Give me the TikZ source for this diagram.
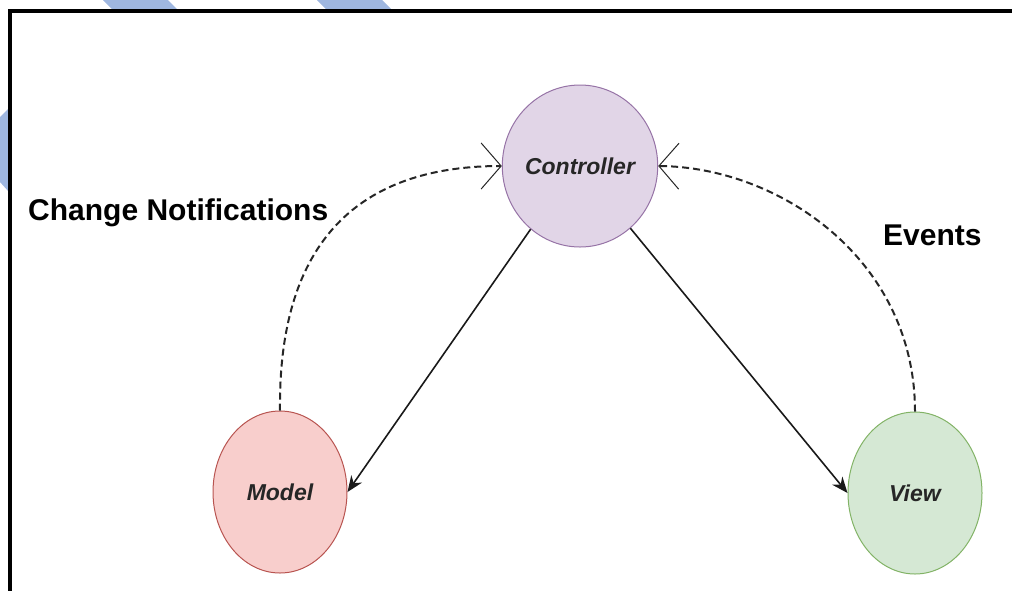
\documentclass[tikz,border=0pt]{standalone}
\usepackage{fontspec}
\setmainfont{Liberation Sans}
\usetikzlibrary{arrows.meta, shapes.geometric}
\definecolor{stripeblue}{RGB}{159,183,224}
\definecolor{ctrlfill}{HTML}{E1D5E7}
\definecolor{ctrldraw}{HTML}{9673A6}
\definecolor{modelfill}{HTML}{F8CECC}
\definecolor{modeldraw}{HTML}{B85450}
\definecolor{viewfill}{HTML}{D5E8D4}
\definecolor{viewdraw}{HTML}{82B366}

\begin{document}
\begin{tikzpicture}[x=1pt, y=-1pt,
	mvc/.style={ellipse, minimum width=134pt, minimum height=162pt, inner sep=0pt,
		line width=1pt, text=black!85, font=\fontsize{23}{28}\selectfont\bfseries\itshape},
	call/.style={line width=1.6pt, draw=black!90, -{Stealth[length=16pt, width=13pt]}},
	notify/.style={line width=2pt, draw=black!85, dash pattern=on 7pt off 4pt,
		-{Straight Barb[length=20pt, width=46pt, line width=1pt]}},
	caption/.style={anchor=base west, inner sep=0pt, font=\fontsize{30}{36}\selectfont\bfseries}]
	\useasboundingbox (0,0) rectangle (1012,590);
%	\draw (0,0) rectangle (1012,590);
	\fill[stripeblue] (103,0) -- (168,0) -- (180,12) -- (115,12) -- cycle;
	\fill[stripeblue] (317,0) -- (382,0) -- (394,12) -- (329,12) -- cycle;
	\fill[stripeblue] (0,117) -- (9,108) -- (9,192) -- (0,182) -- cycle;
	\draw[line width=4pt] (1016,11.3) -- (9.5,11.3) -- (9.5,594);

	\node[mvc, fill=ctrlfill, draw=ctrldraw] (ctrl) at (580,166) {Controller};
	\node[mvc, fill=modelfill, draw=modeldraw] (mdl) at (280,492) {Model};
	\node[mvc, fill=viewfill, draw=viewdraw] (view) at (915,493) {View};

	\draw[call] (ctrl.232) -- (mdl.east);
	\draw[call] (ctrl.309) -- (view.west);
	\draw[notify] (mdl.north) .. controls (278,230) and (370,166) .. (ctrl.west);
	\draw[notify] (view.north) .. controls (915,260) and (780,167) .. (ctrl.east);

	\node[caption] (chg) at (28,220) {Change Notifications};
	\node[caption] (evt) at (883,245) {Events};

\end{tikzpicture}
\end{document}
